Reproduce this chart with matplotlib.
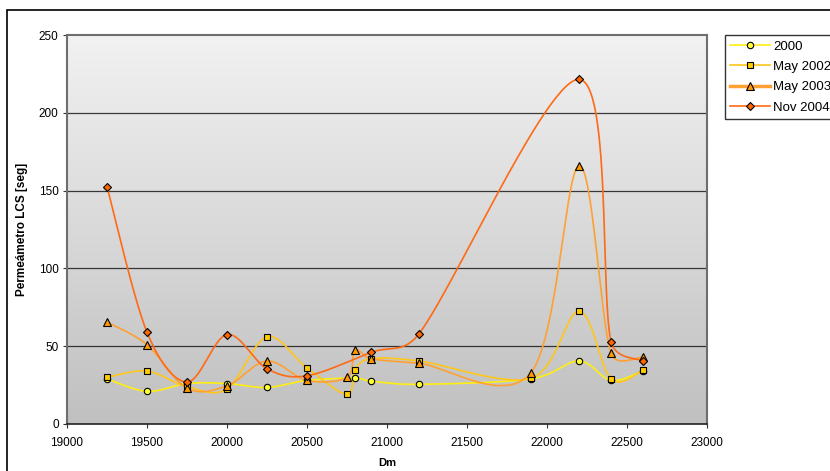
import numpy as np
import matplotlib
matplotlib.use("Agg")
import matplotlib.pyplot as plt
from matplotlib.patches import Rectangle
from matplotlib.lines import Line2D

plt.rcParams['font.family'] = ['Liberation Sans', 'DejaVu Sans']

# Data: chainage (Dm) vs permeameter time (seg)
x_2000 = [19250, 19500, 19750, 20000, 20250, 20500, 20800, 20900, 21200, 21900, 22200, 22400, 22600]
y_2000 = [29, 21, 26, 26, 23.5, 28, 29.5, 27.5, 25.5, 29, 40.5, 28, 34]

x_may2002 = [19250, 19500, 19750, 20000, 20250, 20500, 20750, 20800, 20900, 21200, 21900, 22200, 22400, 22600]
y_may2002 = [30, 34, 24, 22.5, 56, 36, 19, 35, 42, 40.5, 29.5, 72.5, 29, 34.5]

x_may2003 = [19250, 19500, 19750, 20000, 20250, 20500, 20750, 20800, 20900, 21200, 21900, 22200, 22400, 22600]
y_may2003 = [65.5, 51, 23, 24.5, 40.5, 28, 30, 47.5, 42, 39, 33, 166, 45.5, 43]

x_nov2004 = [19250, 19500, 19750, 20000, 20250, 20500, 20900, 21200, 22200, 22400, 22600]
y_nov2004 = [152.5, 59, 27, 57.5, 35.5, 31, 46, 58, 221.5, 53, 40.5]

series = [
    ("2000", x_2000, y_2000, "#FFEE11", "#FFFF33", "o", 4.6),
    ("May 2002", x_may2002, y_may2002, "#FFC61A", "#FFCC00", "s", 4.6),
    ("May 2003", x_may2003, y_may2003, "#FFA033", "#FF9900", "^", 5.6),
    ("Nov 2004", x_nov2004, y_nov2004, "#FF6A14", "#FF6600", "D", 4.2),
]

W, H = 830, 471
left, right, top, bottom = 67, 707, 35, 424
XMIN, XMAX, YMIN, YMAX = 19000, 23000, 0, 250
SX = (right - left) / (XMAX - XMIN)   # pixels per x unit
SY = (bottom - top) / (YMAX - YMIN)   # pixels per y unit


def smooth(xs, ys, n=60):
    """Bezier smoothing through every point; control arms are 1/6 of the
    neighbour chord, capped at half the segment length (screen space)."""
    p = np.column_stack([np.asarray(xs, float) * SX, np.asarray(ys, float) * SY])
    m = len(p)
    out = [p[0]]
    t = np.linspace(0, 1, n)[1:, None]
    for i in range(m - 1):
        p1, p2 = p[i], p[i + 1]
        p0 = p[i - 1] if i > 0 else p1
        p3 = p[i + 2] if i + 2 < m else p2
        d12 = np.hypot(*(p2 - p1))
        v1 = p2 - p0
        v2 = p3 - p1
        l1, l2 = np.hypot(*v1), np.hypot(*v2)
        f1 = 1 / 6 if l1 / 6 <= d12 / 2 else (d12 / 2) / l1
        f2 = 1 / 6 if l2 / 6 <= d12 / 2 else (d12 / 2) / l2
        c1 = p1 + v1 * f1
        c2 = p2 - v2 * f2
        seg = ((1 - t) ** 3) * p1 + 3 * ((1 - t) ** 2) * t * c1 \
            + 3 * (1 - t) * t ** 2 * c2 + t ** 3 * p2
        out.extend(seg)
    out = np.array(out)
    return out[:, 0] / SX, out[:, 1] / SY


fig = plt.figure(figsize=(W / 100, H / 100), dpi=100)
fig.patch.set_facecolor("white")

# outer chart border
fig.patches.append(Rectangle((6.5 / W, -5 / H), 840 / W, (H - 10 + 5) / H,
                             transform=fig.transFigure, fill=False,
                             edgecolor="black", linewidth=1.2))

ax = fig.add_axes([left / W, 1 - bottom / H, (right - left) / W, (bottom - top) / H])

# plot area gradient
grad = np.linspace(0, 1, 256)[:, None]
cmap = matplotlib.colors.LinearSegmentedColormap.from_list("bg", ["#C0C0C0", "#F2F2F2"])
ax.imshow(grad, extent=[0, 1, 0, 1], transform=ax.transAxes, cmap=cmap,
          aspect="auto", origin="lower", zorder=0)

ax.set_xlim(XMIN, XMAX)
ax.set_ylim(YMIN, YMAX)
ax.set_xticks(np.arange(19000, 23001, 500))
ax.set_yticks(np.arange(0, 251, 50))
for gy in [50, 100, 150, 200]:
    ax.axhline(gy, color="#1a1a1a", linewidth=0.9, zorder=1, alpha=0.85)

for label, xs, ys, lc, mc, mk, ms in series:
    sx, sy = smooth(xs, ys)
    ax.plot(sx, sy, color=lc, linewidth=1.2, zorder=2)
    ax.plot(xs, ys, linestyle="none", marker=mk, markersize=ms,
            markerfacecolor=mc, markeredgecolor="black", markeredgewidth=0.8, zorder=3)

for s in ["left", "right", "top"]:
    ax.spines[s].set_color("#6e6e6e")
    ax.spines[s].set_linewidth(1.5)
ax.spines["bottom"].set_color("#222222")
ax.spines["bottom"].set_linewidth(1.2)

ax.tick_params(axis="both", labelsize=8.5, length=3, width=0.8, color="#333333", pad=3)
ax.tick_params(axis="x", pad=6)
ax.set_xlabel("Dm", fontsize=8, fontweight="bold", labelpad=7)
ax.set_ylabel("Permeámetro LCS [seg]", fontsize=8.5, fontweight="bold", labelpad=8)

handles = [Line2D([0], [0], color=lc, linewidth=1.2 if lbl != "May 2003" else 2.5,
                  marker=mk, markersize=ms, markerfacecolor=mc,
                  markeredgecolor="black", markeredgewidth=0.8)
           for lbl, xs, ys, lc, mc, mk, ms in series]
leg = fig.legend(handles, [s[0] for s in series], loc="upper left",
                 bbox_to_anchor=(725 / W, 1 - 35 / H), borderaxespad=0,
                 fontsize=9.5, frameon=True, fancybox=False, handlelength=3.0,
                 borderpad=0.4, labelspacing=0.62, handletextpad=0.25)
leg.get_frame().set_edgecolor("black")
leg.get_frame().set_linewidth(1.0)

fig.savefig("out.png", dpi=100)
